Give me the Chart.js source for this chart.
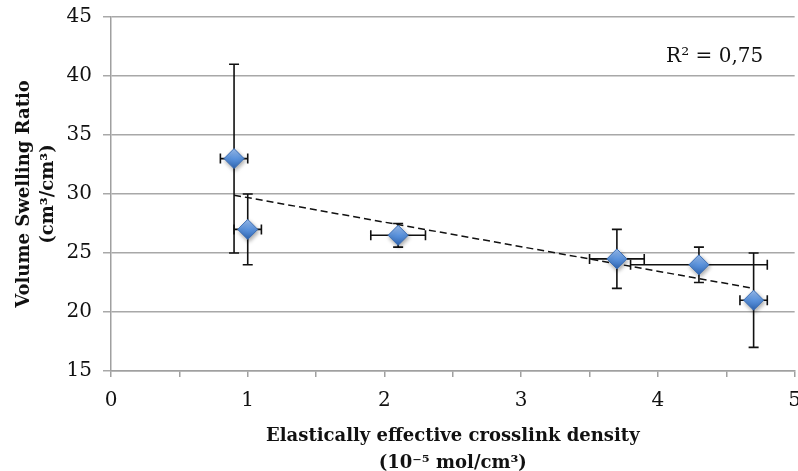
<!DOCTYPE html>
<html>
<head>
<meta charset="utf-8">
<script src="https://cdn.jsdelivr.net/npm/chart.js@4.4.1/dist/chart.umd.min.js"></script>
<style>
  html, body { margin: 0; padding: 0; background: #fff; overflow: hidden; }
  #wrap { position: relative; width: 813px; height: 483px; margin-top: -6px; }
</style>
</head>
<body>
<div id="wrap"><canvas id="c"></canvas></div>
<script>
// ---- Data ----
const xVals    = [0.9, 1.0, 2.1, 3.7, 4.3, 4.7];
const yVals    = [33, 27, 26.5, 24.5, 24, 21];
const yErrLow  = [25, 24, 25.5, 22, 22.5, 17];
const yErrHigh = [41, 30, 27.5, 27, 25.5, 25];
const xErrLow  = [0.8, 0.9, 1.9, 3.5, 3.8, 4.6];
const xErrHigh = [1.0, 1.1, 2.3, 3.9, 4.8, 4.8];
const trendX   = [0.9, 4.7];
const trendY   = [29.9, 22.0];
const rSquaredLabel = 'R² = 0,75';
const xTitle = ['Elastically effective crosslink density', '(10⁻⁵ mol/cm³)'];
const yTitle = ['Volume Swelling Ratio', '(cm³/cm³)'];

const SERIF = '"DejaVu Serif", "Liberation Serif", serif';

const points = xVals.map((x, i) => ({ x: x, y: yVals[i] }));
const trend = trendX.map((x, i) => ({ x: x, y: trendY[i] }));

const errorBars = {
  id: 'errorBars',
  beforeDatasetsDraw(chart) {
    const ctx = chart.ctx, xs = chart.scales.x, ys = chart.scales.y;
    const cap = 5;
    ctx.save();
    ctx.strokeStyle = '#111';
    ctx.lineWidth = 1.6;
    for (let i = 0; i < xVals.length; i++) {
      const px = xs.getPixelForValue(xVals[i]);
      const py = ys.getPixelForValue(yVals[i]);
      const yl = ys.getPixelForValue(yErrLow[i]);
      const yh = ys.getPixelForValue(yErrHigh[i]);
      const xl = xs.getPixelForValue(xErrLow[i]);
      const xh = xs.getPixelForValue(xErrHigh[i]);
      ctx.beginPath();
      ctx.moveTo(px, yl); ctx.lineTo(px, yh);
      ctx.moveTo(px - cap, yl); ctx.lineTo(px + cap, yl);
      ctx.moveTo(px - cap, yh); ctx.lineTo(px + cap, yh);
      ctx.moveTo(xl, py); ctx.lineTo(xh, py);
      ctx.moveTo(xl, py - cap); ctx.lineTo(xl, py + cap);
      ctx.moveTo(xh, py - cap); ctx.lineTo(xh, py + cap);
      ctx.stroke();
    }
    ctx.restore();
  },
  beforeDatasetDraw(chart, args) {
    if (args.index === 1) {
      chart.ctx.save();
      chart.ctx.shadowColor = 'rgba(0,0,0,0.35)';
      chart.ctx.shadowBlur = 4;
      chart.ctx.shadowOffsetX = 1;
      chart.ctx.shadowOffsetY = 2;
    }
  },
  afterDatasetDraw(chart, args) {
    if (args.index === 1) chart.ctx.restore();
  },
  afterDraw(chart) {
    const ctx = chart.ctx, xs = chart.scales.x, ys = chart.scales.y;
    ctx.save();
    ctx.fillStyle = '#111';
    ctx.font = '20px ' + SERIF;
    ctx.textBaseline = 'middle';
    ctx.textAlign = 'left';
    ctx.fillText(rSquaredLabel, xs.getPixelForValue(4.06), ys.getPixelForValue(41.6));
    ctx.restore();
  }
};

function diamondFill(context) {
  const chart = context.chart;
  const el = context.element;
  if (!el || el.y === undefined) return '#4F81BD';
  const g = chart.ctx.createLinearGradient(0, el.y - 10, 0, el.y + 10);
  g.addColorStop(0, '#9cc0f2');
  g.addColorStop(0.5, '#5b93dd');
  g.addColorStop(1, '#2f66b3');
  return g;
}

new Chart(document.getElementById('c'), {
  type: 'scatter',
  data: {
    datasets: [
      {
        type: 'line',
        data: trend,
        borderColor: '#111',
        borderWidth: 1.5,
        borderDash: [7, 4],
        pointRadius: 0,
        fill: false,
        order: 2
      },
      {
        data: points,
        pointStyle: 'rectRot',
        pointRadius: 10,
        pointHoverRadius: 10,
        pointBackgroundColor: diamondFill,
        pointBorderColor: '#3a6db5',
        pointBorderWidth: 1,
        order: 1
      }
    ]
  },
  plugins: [errorBars],
  options: {
    responsive: true,
    maintainAspectRatio: false,
    animation: false,
    events: [],
    layout: { padding: { left: 13, top: 10, right: 0, bottom: 0 } },
    plugins: { legend: { display: false }, tooltip: { enabled: false } },
    scales: {
      x: {
        type: 'linear',
        min: 0, max: 5,
        afterFit: s => { s.height = 106; },
        ticks: {
          stepSize: 0.5,
          autoSkip: false,
          maxRotation: 0,
          color: '#111',
          font: { family: SERIF, size: 20 },
          padding: 12,
          callback: v => (Math.abs(v - Math.round(v)) < 1e-9 ? String(Math.round(v)) : '')
        },
        grid: { drawOnChartArea: false, color: '#a0a0a0', tickLength: 6, lineWidth: 1.5 },
        border: { color: '#a0a0a0', width: 1.5 },
        title: {
          display: true,
          text: xTitle,
          color: '#111',
          font: { family: SERIF, size: 18, weight: 'bold', lineHeight: 1.5 },
          padding: { top: 0, bottom: 0 }
        }
      },
      y: {
        type: 'linear',
        min: 15, max: 45,
        afterFit: s => { s.width = 98; },
        ticks: {
          stepSize: 5,
          color: '#111',
          font: { family: SERIF, size: 20 },
          padding: 11
        },
        grid: { color: '#a8a8a8', lineWidth: 1.5, tickLength: 8 },
        border: { color: '#a0a0a0', width: 1.5 },
        title: {
          display: true,
          text: yTitle,
          color: '#111',
          font: { family: SERIF, size: 18, weight: 'bold', lineHeight: 1.3 },
          padding: { top: 0, bottom: 0 }
        }
      }
    }
  }
});
</script>
</body>
</html>
